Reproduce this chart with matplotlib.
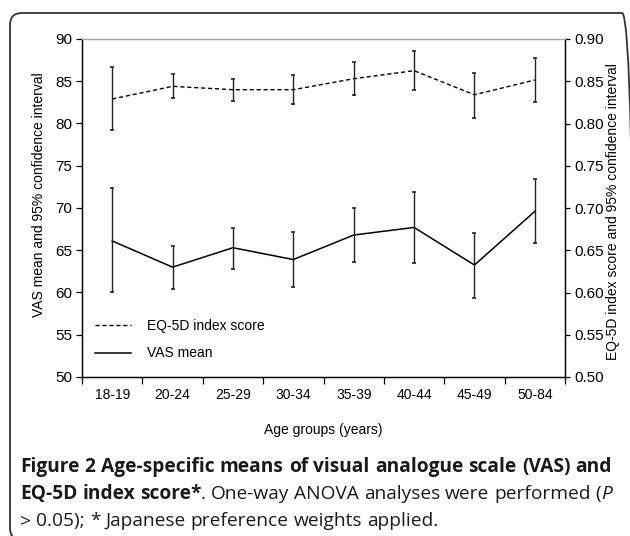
import matplotlib
matplotlib.use("Agg")
import matplotlib.pyplot as plt
from matplotlib.patches import FancyBboxPatch
from matplotlib.ticker import FixedLocator, FormatStrFormatter

age_groups = ["18-19", "20-24", "25-29", "30-34", "35-39", "40-44", "45-49", "50-84"]

vas_mean = [66.1, 63.0, 65.3, 63.9, 66.8, 67.7, 63.25, 69.6]
vas_lower = [60.0, 60.45, 62.8, 60.7, 63.65, 63.55, 59.3, 65.8]
vas_upper = [72.35, 65.55, 67.65, 67.2, 69.95, 71.9, 67.1, 73.45]

eq5d_mean = [0.829, 0.844, 0.840, 0.840, 0.853, 0.8625, 0.834, 0.8515]
eq5d_lower = [0.792, 0.830, 0.8265, 0.823, 0.834, 0.840, 0.806, 0.826]
eq5d_upper = [0.8665, 0.8585, 0.853, 0.857, 0.873, 0.886, 0.860, 0.878]

W, H = 630, 536
plt.rcParams["font.family"] = ["Liberation Sans", "DejaVu Sans"]

fig = plt.figure(figsize=(W / 100, H / 100), dpi=100)
ax = fig.add_axes([82 / W, 1 - 377 / H, (565 - 82) / W, (377 - 39) / H])
ax2 = ax.twinx()

xs = [i + 0.5 for i in range(len(age_groups))]

# VAS on the left axis
ax.plot(xs, vas_mean, color="black", lw=1.1, label="VAS mean")
ax.errorbar(xs, vas_mean,
            yerr=[[m - lo for m, lo in zip(vas_mean, vas_lower)],
                  [hi - m for m, hi in zip(vas_mean, vas_upper)]],
            fmt="none", ecolor="#222222", elinewidth=1.0, capsize=1.6, capthick=1.2)

# EQ-5D on the right axis
ax2.plot(xs, eq5d_mean, color="black", lw=1.0, ls=(0, (3, 2)), label="EQ-5D index score")
ax2.errorbar(xs, eq5d_mean,
             yerr=[[m - lo for m, lo in zip(eq5d_mean, eq5d_lower)],
                   [hi - m for m, hi in zip(eq5d_mean, eq5d_upper)]],
             fmt="none", ecolor="#222222", elinewidth=1.0, capsize=1.6, capthick=1.2)

ax.set_xlim(0, len(age_groups))
ax.set_ylim(50, 90)
ax.set_yticks(range(50, 91, 5))
ax2.set_ylim(0.5, 0.9)
ax2.set_yticks([0.5 + 0.05 * i for i in range(9)])
ax2.yaxis.set_major_formatter(FormatStrFormatter("%.2f"))

# tick marks between groups, labels at the centres
ax.xaxis.set_major_locator(FixedLocator(range(len(age_groups) + 1)))
ax.xaxis.set_major_formatter(plt.NullFormatter())
ax.xaxis.set_minor_locator(FixedLocator(xs))
ax.set_xticklabels(age_groups, minor=True)
ax.tick_params(axis="x", which="minor", length=0, pad=8, labelsize=10)
ax.tick_params(axis="x", which="major", length=5, width=0.9, direction="out")
ax.tick_params(axis="y", length=4, width=0.9, labelsize=11, pad=3)
ax2.tick_params(axis="y", length=3.5, width=0.9, labelsize=11, pad=3)

for a in (ax, ax2):
    a.spines["top"].set_color("#a8a8a8")
    a.spines["top"].set_linewidth(0.9)
    for s in ("left", "right", "bottom"):
        a.spines[s].set_linewidth(0.9)

ax.set_xlabel("Age groups (years)", fontsize=10, labelpad=15)
ax.set_ylabel("VAS mean and 95% confidence interval", fontsize=10)
ax2.set_ylabel("EQ-5D index score and 95% confidence interval", fontsize=10)
ax.yaxis.set_label_coords(-36 / 483, 0.54)
ax2.yaxis.set_label_coords(1 + 41 / 483, 0.49)

handles = ax2.get_lines()[:1] + ax.get_lines()[:1]
ax2.legend(handles, [h.get_label() for h in handles], loc="lower left",
           bbox_to_anchor=(0.0, 0.012), frameon=False, fontsize=10,
           handlelength=2.6, handletextpad=1.2, labelspacing=0.95)

# rounded frame around figure and caption (right edge sits just off the image)
frame = FancyBboxPatch((10, -4), 624, 527, boxstyle="round,pad=0,rounding_size=12",
                       transform=None, fill=False, edgecolor="#333333", lw=1.3)
fig.patches.append(frame)

# caption, word by word so the first two lines can be justified
renderer = fig.canvas.get_renderer()
cap_font = ["Open Sans", "DejaVu Sans"]
cap_size = 13.8
cap_left, cap_right = 20, 612


def caption_line(tokens, y_base, justify):
    # tokens: (text, weight, style, glued to previous token)
    texts = []
    widths = []
    for text, weight, style, glued in tokens:
        t = fig.text(0, 1 - y_base / H, text, fontsize=cap_size, family=cap_font,
                     weight=weight, style=style, color="#1a1a1a", va="baseline")
        texts.append(t)
        widths.append(t.get_window_extent(renderer).width)
    space = fig.text(0, 0, "a a", fontsize=cap_size, family=cap_font)
    sw = space.get_window_extent(renderer).width
    space.set_text("aa")
    sw -= space.get_window_extent(renderer).width
    space.remove()
    n_gaps = sum(1 for tok in tokens[1:] if not tok[3])
    if justify and n_gaps:
        sw = (cap_right - cap_left - sum(widths)) / n_gaps
    x = cap_left
    for i, (t, w) in enumerate(zip(texts, widths)):
        if i > 0 and not tokens[i][3]:
            x += sw
        t.set_x(x / W)
        x += w


def words(text, weight="normal", style="normal", glued_first=False):
    parts = text.split(" ")
    return [(p, weight, style, glued_first if i == 0 else False) for i, p in enumerate(parts)]


line1 = words("Figure 2 Age-specific means of visual analogue scale (VAS) and", "bold")
line2 = (words("EQ-5D index score*", "bold")
         + words(". One-way ANOVA analyses were performed (", glued_first=True)[:-1]
         + [("(", "normal", "normal", False), ("P", "normal", "italic", True)])
line3 = words("> 0.05); * Japanese preference weights applied.")

caption_line(line1, 472, True)
caption_line(line2, 499, True)
caption_line(line3, 526, False)

fig.savefig("out.png", dpi=100)
